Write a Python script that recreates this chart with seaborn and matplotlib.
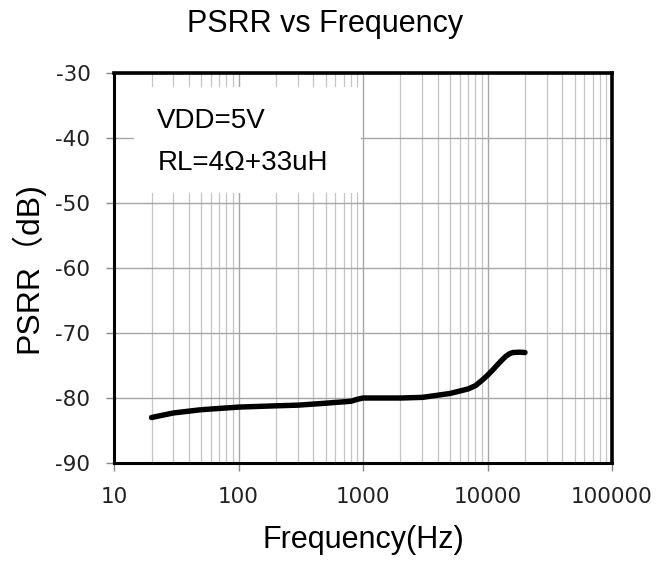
import matplotlib
matplotlib.use("Agg")
import matplotlib.pyplot as plt
import matplotlib.ticker as mticker
from matplotlib.patches import Rectangle
import numpy as np
import pandas as pd
import seaborn as sns

# PSRR measurement (dB) versus frequency (Hz)
freq_hz = [20, 30, 50, 100, 200, 300, 500, 800, 900, 1000, 2000, 3000,
           5000, 7000, 8000, 9000, 10000, 11000, 12000, 13000, 14000,
           15000, 16000, 18000, 20000]
psrr_db = [-83.0, -82.3, -81.8, -81.4, -81.2, -81.1, -80.8, -80.5, -80.2,
           -80.0, -80.0, -79.9, -79.3, -78.6, -78.1, -77.3, -76.5, -75.7,
           -74.9, -74.2, -73.6, -73.2, -73.0, -72.95, -73.0]

x_ticks = [10, 100, 1000, 10000, 100000]
y_ticks = [-90, -80, -70, -60, -50, -40, -30]
x_tick_labels = ["10", "100", "1000", "10000", "100000"]

title = "PSRR vs Frequency"
x_label = "Frequency(Hz)"
y_label = "PSRR（dB)"
note_lines = ["VDD=5V", "RL=4Ω+33uH"]

sns.set_theme(style="white")
plt.rcParams["font.family"] = ["Liberation Sans", "Noto Sans CJK SC", "DejaVu Sans"]
plt.rcParams["axes.unicode_minus"] = False

df = pd.DataFrame({"freq": freq_hz, "psrr": psrr_db})

fig = plt.figure(figsize=(6.58, 5.63), dpi=100)
ax = fig.add_axes([0.1733, 0.1776, 0.7568, 0.6927])

sns.lineplot(data=df, x="freq", y="psrr", ax=ax, color="black",
             linewidth=3.9, zorder=4, solid_capstyle="round",
             solid_joinstyle="round")

ax.set_xscale("log")
ax.set_xlim(10, 100000)
ax.set_ylim(-90, -30)
ax.set_xticks(x_ticks)
ax.set_xticklabels(x_tick_labels)
ax.xaxis.set_minor_locator(mticker.LogLocator(base=10, subs=np.arange(2, 10)))
ax.xaxis.set_minor_formatter(mticker.NullFormatter())
ax.set_yticks(y_ticks)

ax.set_axisbelow(True)
ax.grid(which="major", axis="both", color="#a6a6a6", linewidth=1.0)
ax.grid(which="minor", axis="x", color="#c4c4c4", linewidth=0.9)

ax.tick_params(axis="both", which="major", direction="out", length=6,
               width=1.0, color="#888888", labelsize=15.5,
               labelcolor="#222222", bottom=True, left=True)
ax.tick_params(axis="x", which="major", pad=11)
ax.tick_params(axis="y", which="major", pad=11)
ax.tick_params(axis="x", which="minor", bottom=False)
for lab in ax.get_xticklabels() + ax.get_yticklabels():
    lab.set_family("DejaVu Sans")

for side, lw in [("top", 2.6), ("right", 2.6), ("bottom", 2.2), ("left", 2.2)]:
    ax.spines[side].set_visible(True)
    ax.spines[side].set_color("black")
    ax.spines[side].set_linewidth(lw)

# white annotation panel in the upper-left corner
ax.add_patch(Rectangle((0.040, 0.692), 0.456, 0.272, transform=ax.transAxes,
                       facecolor="white", edgecolor="none", zorder=2))
ax.text(0.087, 0.877, note_lines[0], transform=ax.transAxes, fontsize=20,
        ha="left", va="center", color="black", zorder=3)
ax.text(0.087, 0.770, note_lines[1], transform=ax.transAxes, fontsize=20,
        ha="left", va="center", color="black", zorder=3)

ax.set_xlabel(x_label, fontsize=22, labelpad=13, color="black")
ax.set_ylabel(y_label, fontsize=23, labelpad=8, color="black")
fig.text(0.494, 0.957, title, fontsize=22, ha="center", va="center",
         color="black")

fig.savefig("out.png", dpi=100, facecolor="white")
